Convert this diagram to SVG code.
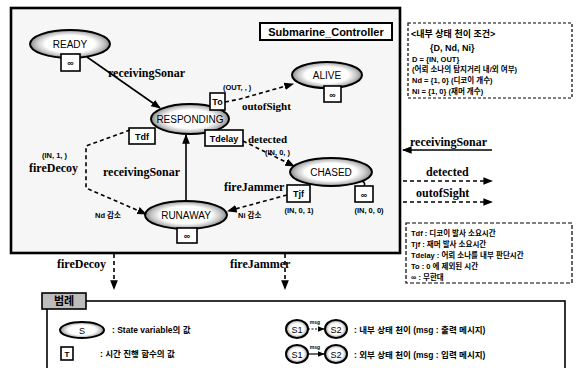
<svg xmlns="http://www.w3.org/2000/svg" width="576" height="368" viewBox="0 0 576 368">
<defs>
<radialGradient id="eg" cx="50%" cy="50%" r="50%">
<stop offset="0%" stop-color="#fff"/>
<stop offset="62%" stop-color="#fff"/>
<stop offset="85%" stop-color="#c4c4c4"/>
<stop offset="100%" stop-color="#8a8a8a"/>
</radialGradient>
<marker id="ah" viewBox="0 0 10 10" refX="9" refY="5" markerWidth="6" markerHeight="6" orient="auto">
<path d="M0,1 L10,5 L0,9 z" fill="#000"/>
</marker>
</defs>
<style>
.st{fill:url(#eg);stroke:#000;stroke-width:2}
.bx{fill:#fff;stroke:#000;stroke-width:1.6}
.sn{font-family:"Liberation Sans",Arial,sans-serif;font-size:10px;fill:#000;text-anchor:middle}
.bt{font-family:"Liberation Sans",Arial,sans-serif;font-size:9px;font-weight:bold;fill:#000;text-anchor:middle}
.lb{font-family:"Liberation Serif","Times New Roman",serif;font-size:12px;font-weight:bold;fill:#000}
.sm{font-family:"Liberation Sans",Arial,sans-serif;font-size:7.5px;font-weight:bold;fill:#000}
.kr{font-family:"Liberation Sans","Noto Sans CJK KR",sans-serif;font-size:8.5px;font-weight:bold;fill:#000}
.sol{fill:none;stroke:#000;stroke-width:1.6}
.dsh{fill:none;stroke:#000;stroke-width:1.6;stroke-dasharray:4 3}
</style>
<rect width="576" height="368" fill="#fff"/>

<g id="main-frame">
<rect x="11" y="8" width="389" height="245" fill="#f6f6f6" stroke="#000" stroke-width="2.6"/>
</g>
<g id="title">
<rect x="260" y="23" width="132" height="17" fill="#fff" stroke="#000" stroke-width="2"/>
<text x="326" y="35.5" class="bt" style="font-size:11px">Submarine_Controller</text>
</g>

<g id="READY">
<ellipse cx="70" cy="44" rx="40" ry="14" class="st"/>
<text x="70" y="48" class="sn">READY</text>
<rect x="61" y="54" width="19" height="17" class="bx"/>
<text x="70.5" y="66" class="bt">∞</text>
</g>

<g id="RESPONDING">
<ellipse cx="190" cy="119" rx="39" ry="15" class="st"/>
<text x="190" y="123" class="sn">RESPONDING</text>
<rect x="210" y="93" width="15" height="17" class="bx"/>
<text x="217.5" y="105" class="bt">To</text>
<rect x="129" y="128" width="26" height="16" class="bx"/>
<text x="142" y="139.5" class="bt">Tdf</text>
<rect x="205" y="130" width="38" height="16" class="bx"/>
<text x="224" y="141.5" class="bt">Tdelay</text>
</g>

<g id="ALIVE">
<ellipse cx="327" cy="75" rx="35" ry="13" class="st"/>
<text x="327" y="79" class="sn">ALIVE</text>
<rect x="324" y="86" width="17" height="16" class="bx"/>
<text x="332.5" y="97.5" class="bt">∞</text>
</g>

<g id="CHASED">
<ellipse cx="331" cy="172" rx="41" ry="14" class="st"/>
<text x="331" y="176" class="sn">CHASED</text>
<rect x="287" y="185" width="23" height="17" class="bx"/>
<text x="298.5" y="197" class="bt">Tjf</text>
<path d="M362,181 Q366,183 364,186" class="sol"/>
<rect x="355" y="186" width="18" height="16" class="bx"/>
<text x="364" y="197.5" class="bt">∞</text>
<text x="299" y="213" class="sm" text-anchor="middle">(IN, 0, 1)</text>
<text x="369" y="213" class="sm" text-anchor="middle">(IN, 0, 0)</text>
</g>

<g id="RUNAWAY">
<ellipse cx="186" cy="215" rx="41" ry="14" class="st"/>
<text x="186" y="219" class="sn">RUNAWAY</text>
<rect x="177" y="228" width="20" height="15" class="bx"/>
<text x="187" y="239" class="bt">∞</text>
</g>

<g id="connectors">
<line x1="87" y1="57" x2="160" y2="108" class="sol" marker-end="url(#ah)"/>
<line x1="186" y1="201" x2="186" y2="135" class="sol" marker-end="url(#ah)"/>
<path d="M225,102 L240,99 L293,84" class="dsh" marker-end="url(#ah)"/>
<line x1="243" y1="141" x2="294" y2="166" class="dsh" marker-end="url(#ah)"/>
<path d="M130,130 L86,146 L86,188 L146,214" class="dsh" marker-end="url(#ah)"/>
<line x1="287" y1="195" x2="228" y2="211" class="dsh" marker-end="url(#ah)"/>
<line x1="492" y1="150" x2="403" y2="150" class="sol" marker-end="url(#ah)"/>
<line x1="403" y1="181" x2="492" y2="181" class="dsh" marker-end="url(#ah)"/>
<line x1="403" y1="202" x2="492" y2="202" class="dsh" marker-end="url(#ah)"/>
<line x1="114" y1="254" x2="114" y2="289" class="dsh" marker-end="url(#ah)"/>
<line x1="285" y1="254" x2="285" y2="289" class="dsh" marker-end="url(#ah)"/>
</g>

<g id="labels">
<text x="108" y="77" class="lb">receivingSonar</text>
<text x="223" y="90" class="sm">(OUT, , )</text>
<text x="242" y="110" class="lb" style="font-size:11px">outofSight</text>
<text x="248" y="143" class="lb" style="font-size:11px">detected</text>
<text x="265" y="155" class="sm">(IN, 0, )</text>
<text x="42" y="158" class="sm">(IN, 1, )</text>
<text x="29" y="172" class="lb">fireDecoy</text>
<text x="103" y="176" class="lb">receivingSonar</text>
<text x="224" y="191" class="lb">fireJammer</text>
<text x="95" y="218" class="kr" style="font-size:7.5px">Nd 감소</text>
<text x="238" y="218" class="kr" style="font-size:7.5px">Ni 감소</text>
<text x="410" y="146" class="lb">receivingSonar</text>
<text x="426" y="176" class="lb">detected</text>
<text x="416" y="197" class="lb">outofSight</text>
<text x="57" y="268" class="lb">fireDecoy</text>
<text x="230" y="268" class="lb">fireJammer</text>
</g>

<g id="conditions">
<rect x="408" y="23" width="164" height="75" fill="#fff" stroke="#000" stroke-width="1.2" stroke-dasharray="3 2"/>
<text x="411" y="37" class="kr" style="font-size:9px">&lt;내부 상태 천이 조건&gt;</text>
<text x="430" y="51" class="kr" style="font-size:9px">{D, Nd, Ni}</text>
<text x="412" y="62" class="kr" style="font-size:7.5px">D = {IN, OUT}</text>
<text x="412" y="72" class="kr" style="font-size:7.5px">(어뢰 소나의 탐지거리 내/외 여부)</text>
<text x="412" y="83" class="kr" style="font-size:7.5px">Nd = {1, 0} (디코이 개수)</text>
<text x="412" y="94" class="kr" style="font-size:7.5px">Ni = {1, 0} (재머 개수)</text>
</g>

<g id="time-legend">
<rect x="406" y="223" width="166" height="60" fill="#fff" stroke="#000" stroke-width="1.2" stroke-dasharray="4 2"/>
<text x="411" y="236" class="kr" style="font-size:7.5px">Tdf : 디코이 발사 소요시간</text>
<text x="411" y="247" class="kr" style="font-size:7.5px">Tjf : 재머 발사 소요시간</text>
<text x="411" y="258" class="kr" style="font-size:7.5px">Tdelay : 어뢰 소나를 내부 판단시간</text>
<text x="411" y="269" class="kr" style="font-size:7.5px">To : 0 에 제외된 시간</text>
<text x="411" y="280" class="kr" style="font-size:7.5px">∞ : 무한대</text>
</g>

<g id="legend">
<rect x="47" y="301" width="518" height="80" fill="#fff" stroke="#000" stroke-width="1.6"/>
<rect x="42" y="293" width="44" height="16" fill="#bdbdbd" stroke="#000" stroke-width="1.6"/>
<text x="64" y="305" class="kr" style="font-size:11px" text-anchor="middle">범례</text>
<ellipse cx="82" cy="330" rx="22" ry="8" class="st"/>
<text x="82" y="333.5" class="sn" style="font-size:9px">S</text>
<text x="112" y="333" class="kr">: State variable의 값</text>
<rect x="61" y="347" width="12" height="13" class="bx"/>
<text x="67" y="357" class="bt" style="font-size:8px">T</text>
<text x="100" y="357" class="kr">: 시간 진행 함수의 값</text>
<ellipse cx="297" cy="329" rx="11" ry="9" class="st"/>
<text x="297" y="332.5" class="sn" style="font-size:9px">S1</text>
<ellipse cx="336" cy="329" rx="11" ry="9" class="st"/>
<text x="336" y="332.5" class="sn" style="font-size:9px">S2</text>
<line x1="308" y1="329" x2="324" y2="329" class="dsh" style="stroke-dasharray:2 1.5;stroke-width:1.2" marker-end="url(#ah)"/>
<text x="315" y="324" class="sm" style="font-size:5px" text-anchor="middle">msg</text>
<text x="354" y="333" class="kr">: 내부 상태 천이 (msg : 출력 메시지)</text>
<ellipse cx="297" cy="354" rx="11" ry="9" class="st"/>
<text x="297" y="357.5" class="sn" style="font-size:9px">S1</text>
<ellipse cx="336" cy="354" rx="11" ry="9" class="st"/>
<text x="336" y="357.5" class="sn" style="font-size:9px">S2</text>
<line x1="308" y1="354" x2="324" y2="354" class="sol" style="stroke-width:1.2" marker-end="url(#ah)"/>
<text x="315" y="349" class="sm" style="font-size:5px" text-anchor="middle">msg</text>
<text x="354" y="358" class="kr">: 외부 상태 천이 (msg : 입력 메시지)</text>
</g>
</svg>
